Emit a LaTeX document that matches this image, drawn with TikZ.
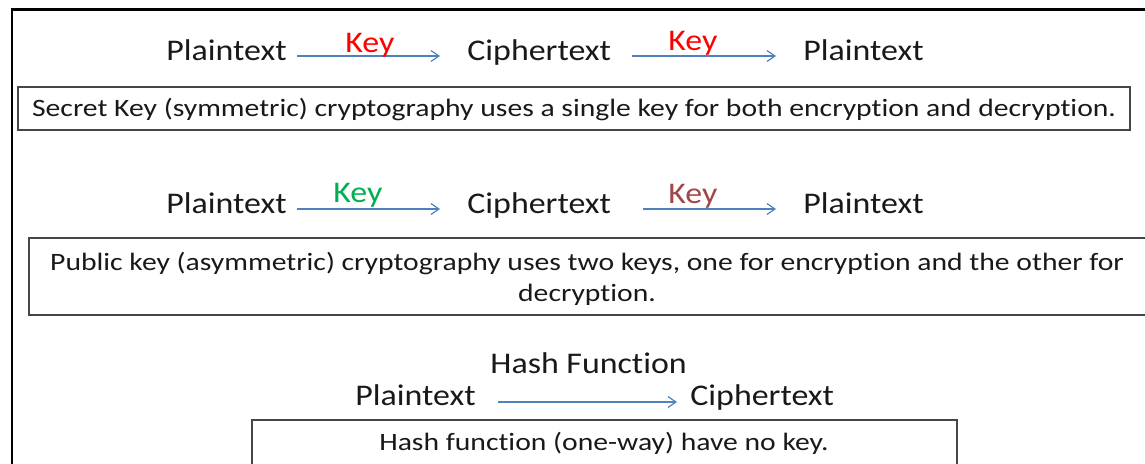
\documentclass[tikz,border=0pt]{standalone}
\usepackage{fontspec}
\setmainfont{Carlito}
\newfontfamily\bigfont[FakeStretch=1.13, Ligatures=NoCommon]{Carlito}
\newfontfamily\notefont[FakeStretch=1.186, Ligatures=NoCommon]{Carlito}
\usetikzlibrary{arrows.meta}
\definecolor{arrowblue}{RGB}{79,129,189}
\definecolor{keyred}{RGB}{255,0,0}
\definecolor{keygreen}{RGB}{0,176,80}
\definecolor{keybrown}{RGB}{160,72,72}
\definecolor{boxgray}{RGB}{70,70,70}
\definecolor{ink}{RGB}{25,25,25}
\tikzset{
  big/.style={font=\bigfont\fontsize{15}{18}\selectfont, text=ink, inner sep=0pt, anchor=base west},
  keylabel/.style={font=\bigfont\fontsize{15}{18}\selectfont, inner sep=0pt, anchor=base west},
  note/.style={font=\notefont\fontsize{12.5}{15}\selectfont, text=ink, inner sep=0pt, anchor=base},
  flow/.style={draw=arrowblue, line width=0.6pt, -{Straight Barb[length=4pt,width=5.5pt,line width=0.6pt]}},
  frame/.style={draw=boxgray, line width=0.8pt},
}
\begin{document}
\begin{tikzpicture}[x=0.5pt,y=-0.5pt]
\useasboundingbox (0,0) rectangle (1145,463);
% outer frame, open to the right and bottom
\draw[line width=1.1pt] (12,470) -- (12,9.5) -- (1150,9.5);

% symmetric row
\node[big] (p1) at (166,60) {Plaintext};
\node[big] (c1) at (467,60) {Ciphertext};
\node[big] (q1) at (803,60) {Plaintext};
\coordinate (a1s) at (297,56);
\coordinate (a1e) at (440,56);
\coordinate (a2s) at (632,56);
\coordinate (a2e) at (776,56);
\draw[flow] (a1s) -- (a1e);
\draw[flow] (a2s) -- (a2e);
\node[keylabel, text=keyred] (k1) at (345,52) {Key};
\node[keylabel, text=keyred] (k2) at (668,50) {Key};
\draw[frame] (18,87) rectangle (1130,130);
\node[note] (t1) at (574,116.5) {Secret Key (symmetric) cryptography uses a single key for both encryption and decryption.};

% asymmetric row
\node[big] (p2) at (166,213) {Plaintext};
\node[big] (c2) at (467,213) {Ciphertext};
\node[big] (q2) at (803,213) {Plaintext};
\coordinate (b1s) at (297,209);
\coordinate (b1e) at (440,209);
\coordinate (b2s) at (643,209);
\coordinate (b2e) at (776,209);
\draw[flow] (b1s) -- (b1e);
\draw[flow] (b2s) -- (b2e);
\node[keylabel, text=keygreen] (k3) at (333,202) {Key};
\node[keylabel, text=keybrown] (k4) at (668,203) {Key};
\draw[frame] (29,238) rectangle (1150,315);
\node[note] (t2) at (587,270.5) {Public key (asymmetric) cryptography uses two keys, one for encryption and the other for};
\node[note] (t3) at (587,301.5) {decryption.};

% hash row
\node[big] (h) at (490,373) {Hash Function};
\node[big] (p3) at (355,405) {Plaintext};
\node[big] (c3) at (690,405) {Ciphertext};
\coordinate (h1s) at (498,402);
\coordinate (h1e) at (677,402);
\draw[flow] (h1s) -- (h1e);
\draw[frame] (252,420) rectangle (957,470);
\node[note] (t4) at (604,450.5) {Hash function (one-way) have no key.};
\end{tikzpicture}
\end{document}
